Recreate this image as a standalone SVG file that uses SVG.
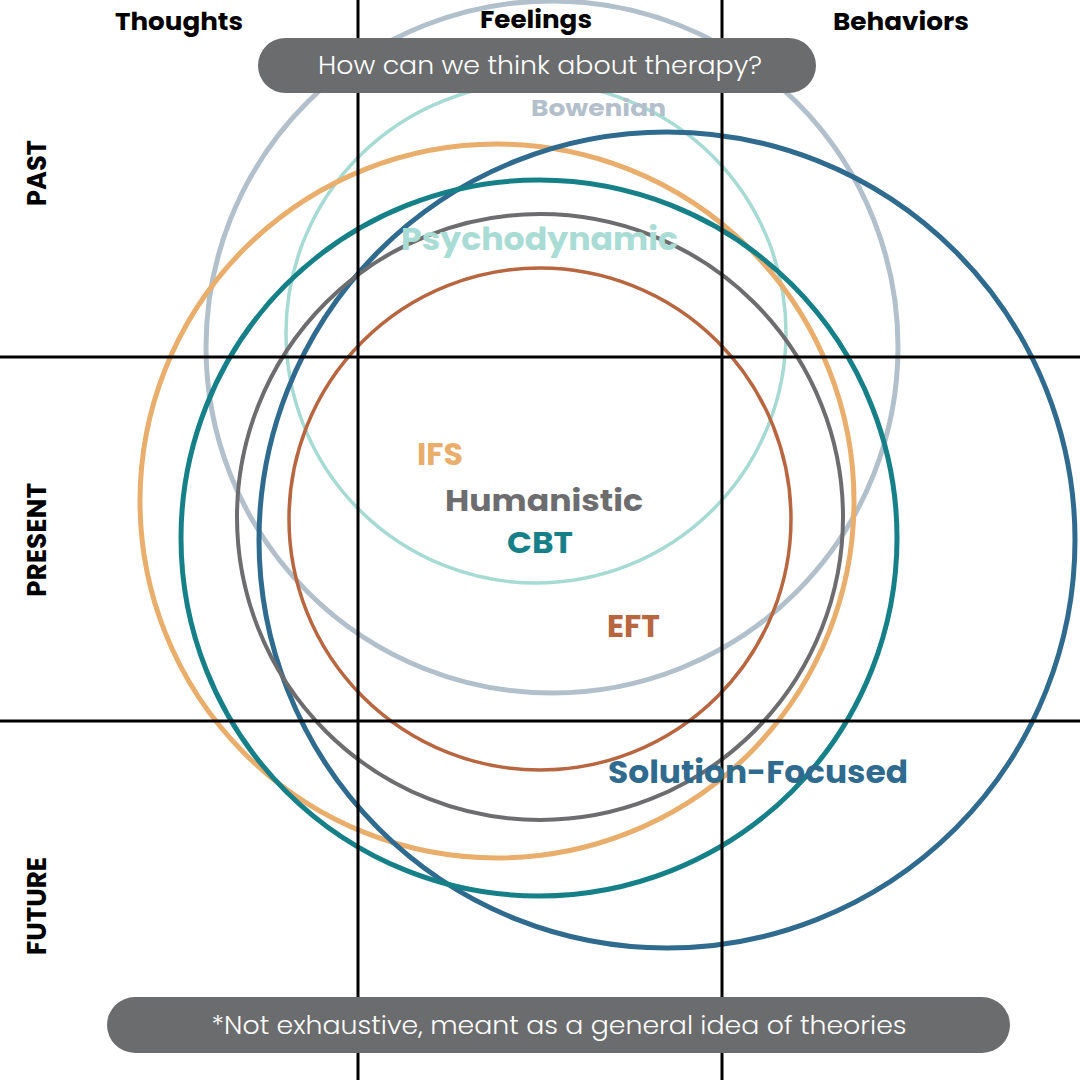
<svg xmlns="http://www.w3.org/2000/svg" width="1080" height="1080" viewBox="0 0 1080 1080">
<style>
.ring{fill:none}
.grid line{stroke:#000;stroke-width:3}
.hdr{font-family:Poppins,Inter,"Noto Sans",sans-serif;font-weight:700;font-size:25px;fill:#000;text-anchor:middle}
.side{font-family:Poppins,Inter,"Noto Sans",sans-serif;font-weight:700;font-size:26px;fill:#000;text-anchor:middle}
.lbl{font-family:Poppins,Inter,"Noto Sans",sans-serif;font-weight:700;text-anchor:start}
.pill{fill:#6b6c6e}
.pilltxt{font-family:Poppins,Inter,"Noto Sans",sans-serif;font-weight:300;fill:#fff;text-anchor:middle}
</style>
<rect width="1080" height="1080" fill="#fff"/>
<g id="circles">
<g id="bowenian"><circle class="ring" cx="552" cy="347" r="346" stroke="#b2c0cc" stroke-width="5"/></g>
<g id="psychodynamic"><circle class="ring" cx="536" cy="333" r="250" stroke="#a6dbd3" stroke-width="3.5"/></g>
<g id="ifs"><circle class="ring" cx="497" cy="501" r="357" stroke="#e9ad6c" stroke-width="5"/></g>
<g id="solution-focused"><circle class="ring" cx="667" cy="540" r="408" stroke="#2f6a8f" stroke-width="5"/></g>
<g id="cbt"><circle class="ring" cx="539" cy="538" r="358" stroke="#168089" stroke-width="5"/></g>
<g id="humanistic"><circle class="ring" cx="540" cy="517" r="303" stroke="#6d6d6f" stroke-width="4"/></g>
<g id="eft"><circle class="ring" cx="540" cy="519" r="251" stroke="#b86640" stroke-width="3.5"/></g>
</g>
<g id="connectors" class="grid">
<line x1="358" y1="0" x2="358" y2="1080"/>
<line x1="722" y1="0" x2="722" y2="1080"/>
<line x1="0" y1="357" x2="1080" y2="357"/>
<line x1="0" y1="721" x2="1080" y2="721"/>
</g>
<g id="labels">
<g id="bowenian-label"><text class="lbl" x="531" y="116" font-size="22" fill="#b3c0cb" textLength="135" lengthAdjust="spacingAndGlyphs">Bowenian</text></g>
<g id="psychodynamic-label"><text class="lbl" x="401" y="250" font-size="32" fill="#a8dcd4" textLength="277" lengthAdjust="spacingAndGlyphs">Psychodynamic</text></g>
<g id="ifs-label"><text class="lbl" x="417" y="465" font-size="31" fill="#e9ad6c" textLength="46" lengthAdjust="spacingAndGlyphs">IFS</text></g>
<g id="humanistic-label"><text class="lbl" x="445" y="511" font-size="29" fill="#6d6d6f" textLength="198" lengthAdjust="spacingAndGlyphs">Humanistic</text></g>
<g id="cbt-label"><text class="lbl" x="507" y="553" font-size="29" fill="#168089" textLength="66" lengthAdjust="spacingAndGlyphs">CBT</text></g>
<g id="eft-label"><text class="lbl" x="607" y="637" font-size="31" fill="#b86640" textLength="53" lengthAdjust="spacingAndGlyphs">EFT</text></g>
<g id="solution-focused-label"><text class="lbl" x="608" y="783" font-size="31" fill="#2f6a8f" textLength="300" lengthAdjust="spacingAndGlyphs">Solution-Focused</text></g>
</g>
<g id="headers">
<text class="hdr" x="179" y="30" textLength="128" lengthAdjust="spacingAndGlyphs">Thoughts</text>
<text class="hdr" x="536" y="28" textLength="112" lengthAdjust="spacingAndGlyphs">Feelings</text>
<text class="hdr" x="901" y="30" textLength="136" lengthAdjust="spacingAndGlyphs">Behaviors</text>
<text class="side" transform="translate(46,173) rotate(-90)" textLength="66" lengthAdjust="spacingAndGlyphs">PAST</text>
<text class="side" transform="translate(46,540) rotate(-90)" textLength="114" lengthAdjust="spacingAndGlyphs">PRESENT</text>
<text class="side" transform="translate(46,906) rotate(-90)" textLength="98" lengthAdjust="spacingAndGlyphs">FUTURE</text>
</g>
<g id="title">
<rect class="pill" x="258" y="38" width="558" height="55" rx="27.5"/>
<text class="pilltxt" x="540" y="74" font-size="25" textLength="444" lengthAdjust="spacingAndGlyphs">How can we think about therapy?</text>
</g>
<g id="footnote">
<rect class="pill" x="107" y="997" width="903" height="56" rx="28"/>
<text class="pilltxt" x="559" y="1034" font-size="25" textLength="695" lengthAdjust="spacingAndGlyphs">*Not exhaustive, meant as a general idea of theories</text>
</g>
</svg>
